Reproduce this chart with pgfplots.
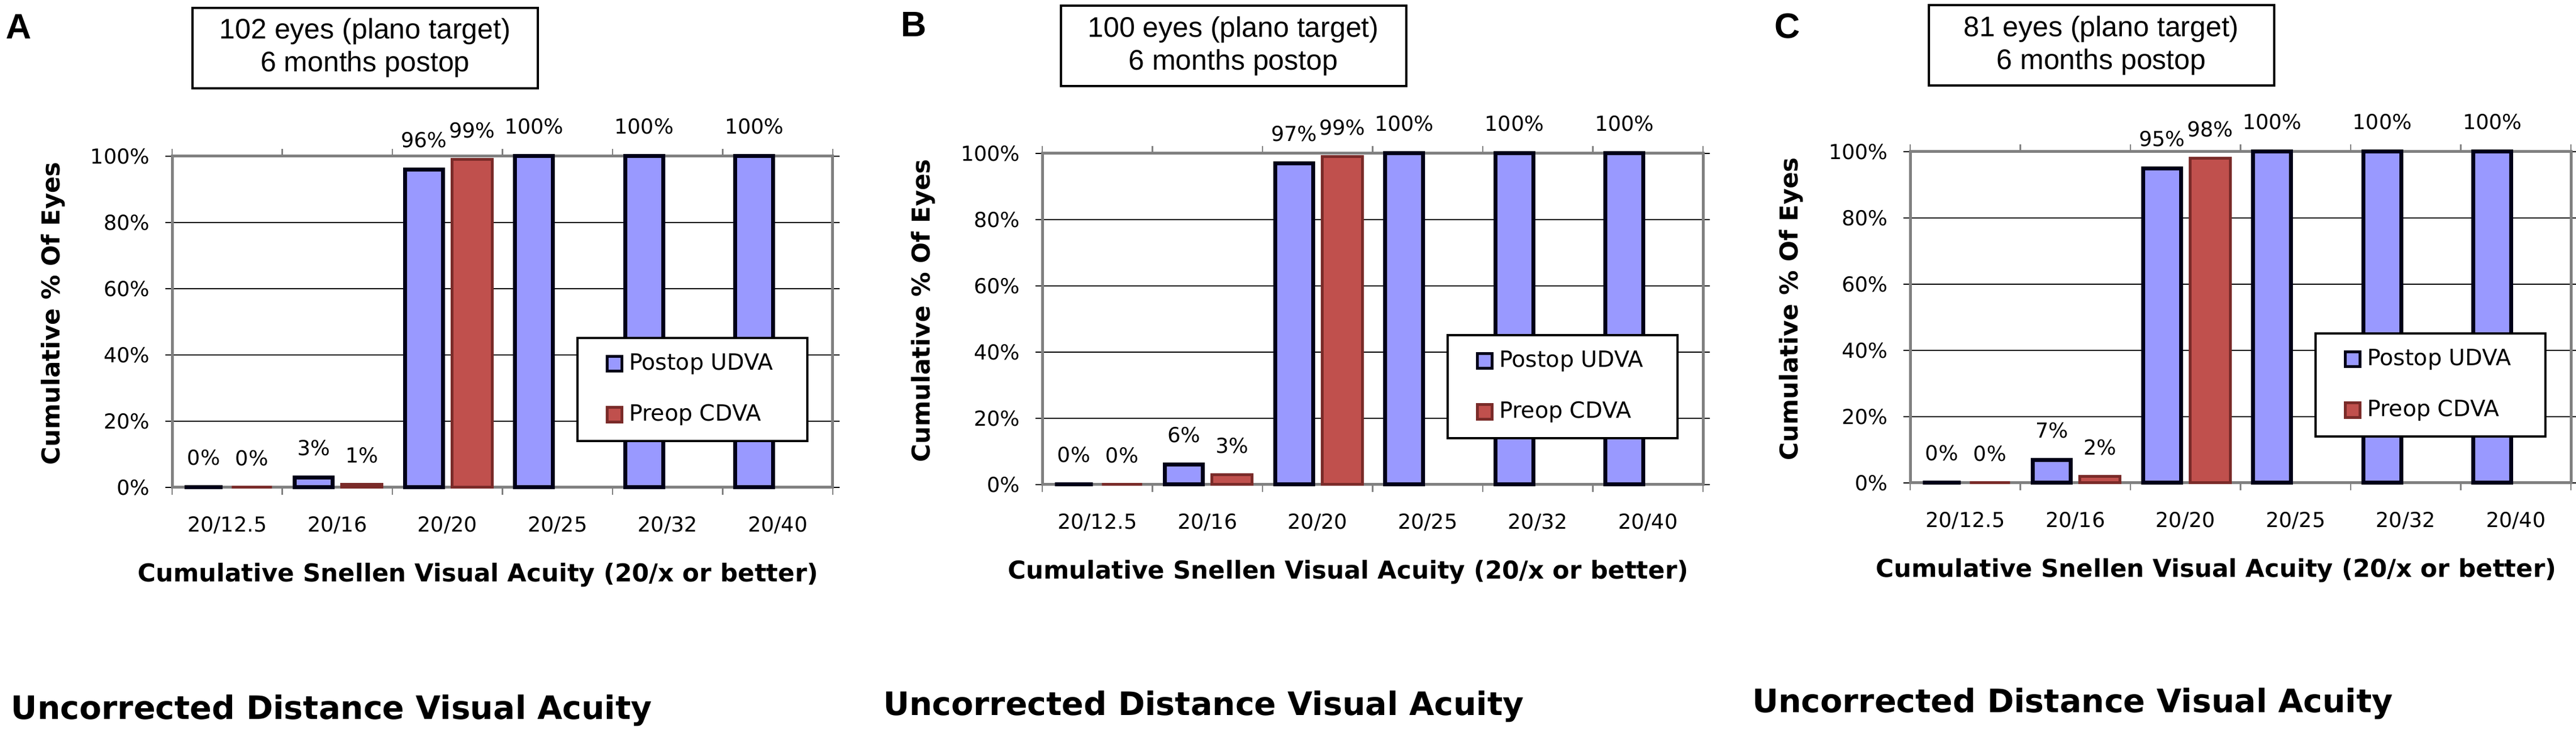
\documentclass[border=0pt]{standalone}
\usepackage{pgfplots}
\pgfplotsset{compat=1.18}
\usepackage{fontspec}
\setmainfont{DejaVu Sans}
\newfontfamily\arialfont{Liberation Sans}
\definecolor{udva}{HTML}{9999FF}
\definecolor{udvaedge}{HTML}{000018}
\definecolor{cdva}{HTML}{C0504D}
\definecolor{cdvaedge}{HTML}{7A2B29}
\definecolor{framegray}{HTML}{808080}

\pgfplotsset{
  /pgfplots/ybar legend/.style={/pgfplots/legend image code/.code={\draw[##1, line width=1pt] (0pt,-2.6pt) rectangle (5.2pt,2.6pt);}},
  panel/.style={
    ybar, scale only axis, width=233.4pt, height=117pt,
    xmin=-0.5, xmax=5.5, ymin=0, ymax=100, clip=false,
    xtick={0,...,5},
    xticklabels={20/12.5,20/16,20/20,20/25,20/32,20/40},
    minor xtick={-0.5,0.5,...,5.5},
    ytick={0,20,...,100},
    yticklabels={0\%,20\%,40\%,60\%,80\%,100\%},
    tick align=outside,
    major tick length=2.4pt, minor tick length=2.6pt,
    every major x tick/.style={draw=none},
    every minor x tick/.style={framegray, line width=0.5pt},
    every major y tick/.style={black, line width=0.4pt},
    ymajorgrids, major grid style={black, line width=0.5pt},
    axis line style={draw=framegray, line width=1pt},
    tick label style={font=\fontsize{7.3}{8}\selectfont},
    xticklabel style={yshift=-4.4pt},
    yticklabel style={xshift=-2pt},
    every axis x label/.style={at={(axis description cs:0.463,0)}, anchor=center, yshift=-31pt, font=\bfseries\fontsize{8.7}{10}\selectfont},
    every axis y label/.style={at={(axis description cs:-0.18,0.525)}, rotate=90, anchor=center, font=\bfseries\fontsize{8.7}{10}\selectfont},
    xlabel={Cumulative Snellen Visual Acuity (20/x or better)},
    ylabel={Cumulative \% Of Eyes},
    nodes near coords={\pgfmathprintnumber[assume math mode=true]{\pgfplotspointmeta}\%},
    every node near coord/.append style={font=\fontsize{7.3}{8}\selectfont, inner sep=0pt, yshift=7pt, text=black},
    legend cell align=left,
    legend style={at={(0.963,0.137)}, anchor=south east, draw=black, line width=0.8pt, fill=white,
      font=\fontsize{7.9}{9}\selectfont, inner xsep=10pt, inner ysep=3.5pt, row sep=6.7pt},
  },
  udvabar/.style={fill=udva, draw=udvaedge, line width=1.4pt, bar width=13.4pt, bar shift=-8.3pt},
  cdvabar/.style={fill=cdva, draw=cdvaedge, line width=1pt, bar width=14.2pt, bar shift=8.7pt},
}

\begin{document}
\begin{tikzpicture}
\useasboundingbox (0,0) rectangle (910pt,258.6pt);

% Panel A
\begin{axis}[panel, at={(60.8pt,86.4pt)}, anchor=south west]
\addplot[udvabar] coordinates {(0,0) (1,3) (2,96) (3,100) (4,100) (5,100)};
\addplot[cdvabar] coordinates {(0,0) (1,1) (2,99)};
\legend{Postop UDVA, Preop CDVA}
\end{axis}

% Panel B
\begin{axis}[panel, at={(368.2pt,87.4pt)}, anchor=south west]
\addplot[udvabar] coordinates {(0,0) (1,6) (2,97) (3,100) (4,100) (5,100)};
\addplot[cdvabar] coordinates {(0,0) (1,3) (2,99)};
\legend{Postop UDVA, Preop CDVA}
\end{axis}

% Panel C
\begin{axis}[panel, at={(674.8pt,88.0pt)}, anchor=south west]
\addplot[udvabar] coordinates {(0,0) (1,7) (2,95) (3,100) (4,100) (5,100)};
\addplot[cdvabar] coordinates {(0,0) (1,2) (2,98)};
\legend{Postop UDVA, Preop CDVA}
\end{axis}

\tikzset{titlebox/.style={draw, line width=0.8pt, minimum width=122pt, minimum height=28.4pt, align=center, inner sep=0pt, font=\arialfont\fontsize{10}{11.6}\selectfont},
  letter/.style={font=\arialfont\bfseries\fontsize{12.5}{14}\selectfont, inner sep=0pt},
  bottomtitle/.style={anchor=base west, inner sep=0pt, font=\bfseries\fontsize{11.4}{13}\selectfont}}

\node[titlebox] at (129pt,241.6pt) {102 eyes (plano target)\\6 months postop};
\node[titlebox] at (435.7pt,242.3pt) {100 eyes (plano target)\\6 months postop};
\node[titlebox] at (742.3pt,242.5pt) {81 eyes (plano target)\\6 months postop};

\node[letter] at (6.7pt,249.1pt) {A};
\node[letter] at (322.9pt,250pt) {B};
\node[letter] at (631.5pt,249.4pt) {C};

\node[bottomtitle] at (3.8pt,4.4pt) {Uncorrected Distance Visual Acuity};
\node[bottomtitle] at (311.8pt,5.8pt) {Uncorrected Distance Visual Acuity};
\node[bottomtitle] at (618.8pt,6.8pt) {Uncorrected Distance Visual Acuity};
\end{tikzpicture}
\end{document}
